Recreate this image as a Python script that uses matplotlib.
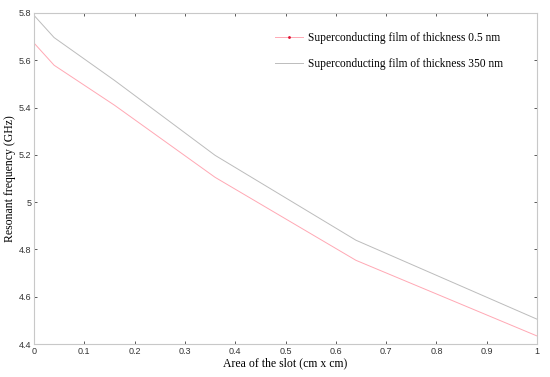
import matplotlib.pyplot as plt
from matplotlib.lines import Line2D

area = [0, 0.04, 0.16, 0.36, 0.64, 1.0]
freq_05nm = [5.673, 5.579, 5.41, 5.105, 4.754, 4.434]
freq_350nm = [5.79, 5.696, 5.515, 5.198, 4.839, 4.505]

xticks = [0, 0.1, 0.2, 0.3, 0.4, 0.5, 0.6, 0.7, 0.8, 0.9, 1]
xtick_labels = ["0", "0.1", "0.2", "0.3", "0.4", "0.5", "0.6", "0.7", "0.8", "0.9", "1"]
yticks = [4.4, 4.6, 4.8, 5, 5.2, 5.4, 5.6, 5.8]
ytick_labels = ["4.4", "4.6", "4.8", "5", "5.2", "5.4", "5.6", "5.8"]
names = ["Superconducting film of thickness 0.5 nm", "Superconducting film of thickness 350 nm"]

red = "#ffa8b4"
grey = "#bcbcbc"

fig = plt.figure(figsize=(5.5, 3.77), dpi=100)
ax = fig.add_axes([34 / 550, 1 - 344 / 377, 503 / 550, 331 / 377])

ax.plot(area, freq_05nm, color=red, lw=0.7)
ax.plot(area, freq_350nm, color=grey, lw=0.7)

ax.set_xlim(0, 1)
ax.set_ylim(4.4, 5.8)
ax.set_xticks(xticks)
ax.set_xticklabels(xtick_labels)
ax.set_yticks(yticks)
ax.set_yticklabels(ytick_labels)
ax.tick_params(direction="in", length=2, width=0.6, color="#404040",
               labelsize=6.5, labelcolor="#333333", top=True, right=True, pad=2)
for lbl in ax.get_xticklabels() + ax.get_yticklabels():
    lbl.set_family("Liberation Sans")
for s in ax.spines.values():
    s.set_color("#c8c8c8")
    s.set_linewidth(0.8)

ax.set_xlabel("Area of the slot (cm x cm)", family="Liberation Serif", fontsize=8.5, labelpad=1)
ax.set_ylabel("Resonant frequency (GHz)", family="Liberation Serif", fontsize=8.5, labelpad=2)

# legend: red entry has a small dot marker like the MATLAB original
handles = [Line2D([], [], color=red, lw=0.7, marker=".", markersize=2,
                  markerfacecolor="#e01030", markeredgecolor="#e01030"),
           Line2D([], [], color=grey, lw=0.7)]
ax.legend(handles, names, loc="upper left", bbox_to_anchor=(0.479, 0.943),
          frameon=False, borderaxespad=0, borderpad=0,
          prop={"family": "Liberation Serif", "size": 8.3},
          handlelength=2.4, handletextpad=0.45, labelspacing=1.25)

fig.savefig("out.png", dpi=100)
